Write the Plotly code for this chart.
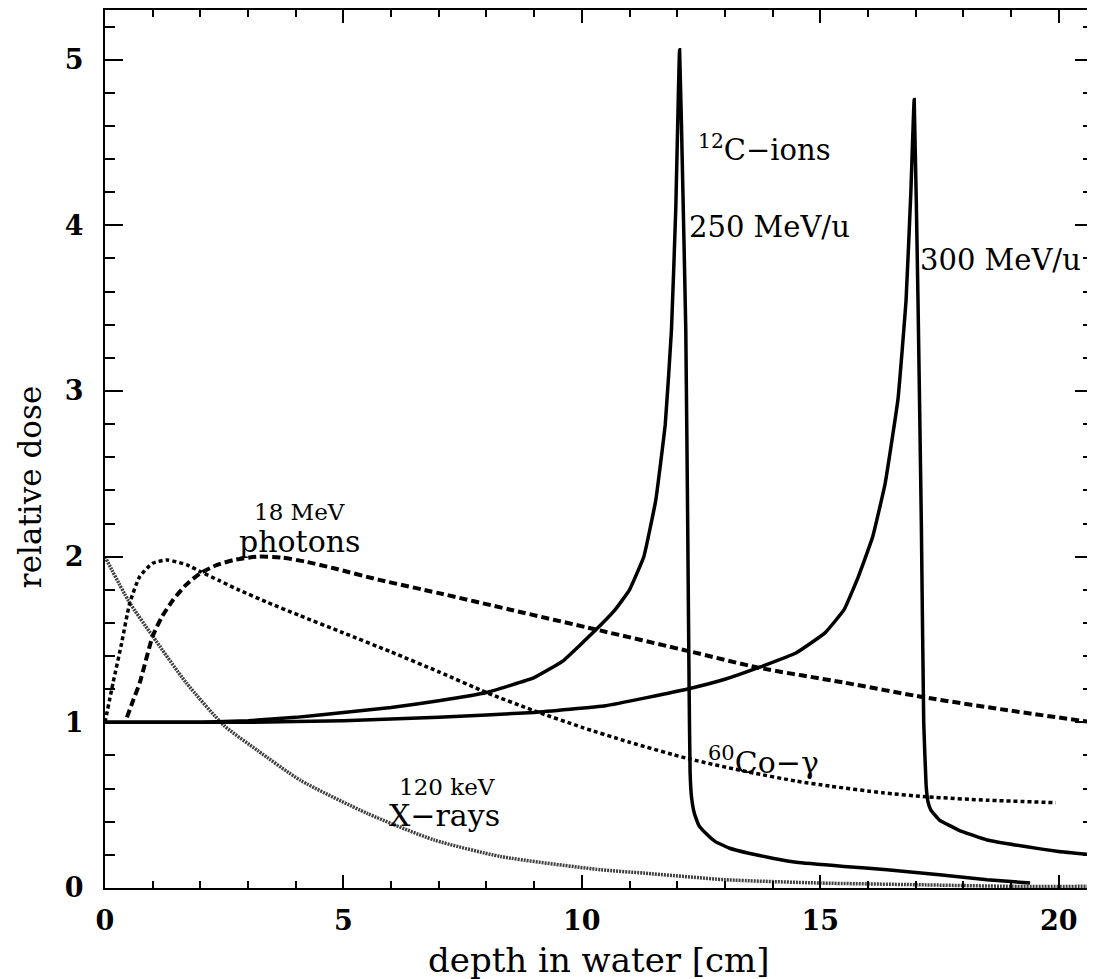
import plotly.graph_objects as go

# ---------------- data ----------------
carbon250_x = [0, 2, 3, 4, 5, 6, 7, 8, 9, 9.6, 10.3, 10.7, 11.0, 11.3, 11.55, 11.75, 11.88,
               11.97, 12.05, 12.12, 12.18, 12.22, 12.25, 12.27, 12.3, 12.36, 12.45, 12.6,
               12.8, 13.1, 13.5, 14.0, 14.5, 15.5, 16.4, 17.5, 18.5, 19.4]
carbon250_y = [1.0, 1.0, 1.01, 1.03, 1.06, 1.09, 1.13, 1.18, 1.27, 1.37, 1.56, 1.68, 1.80,
               2.0, 2.34, 2.8, 3.37, 4.1, 5.06, 4.2, 3.37, 2.2, 1.2, 0.7, 0.55, 0.45, 0.38,
               0.33, 0.28, 0.24, 0.21, 0.18, 0.155, 0.13, 0.11, 0.08, 0.05, 0.03]

carbon300_x = [0, 3, 5, 7, 9, 10.5, 12.2, 13.0, 13.7, 14.5, 15.1, 15.5, 15.8, 16.1, 16.36,
               16.63, 16.8, 16.9, 16.97, 17.05, 17.12, 17.17, 17.22, 17.26, 17.32, 17.5, 17.9,
               18.5, 19.3, 20.0, 20.72]
carbon300_y = [1.0, 1.0, 1.01, 1.03, 1.06, 1.1, 1.2, 1.26, 1.33, 1.42, 1.54, 1.68, 1.88,
               2.12, 2.44, 2.95, 3.55, 4.2, 4.76, 3.55, 2.2, 1.0, 0.62, 0.52, 0.47, 0.41,
               0.35, 0.29, 0.25, 0.22, 0.20]

photons18_x = [0.46, 0.6, 0.73, 1.0, 1.2, 1.43, 1.7, 2.0, 2.35, 2.7, 3.2, 3.7, 4.2, 4.8, 5.75,
               7.0, 8.5, 10.3, 12.24, 13.7, 15.5, 17.2, 19.0, 20.72]
photons18_y = [1.03, 1.14, 1.24, 1.52, 1.64, 1.74, 1.83, 1.90, 1.95, 1.98, 2.0, 1.995, 1.97,
               1.93, 1.86, 1.78, 1.68, 1.56, 1.43, 1.33, 1.24, 1.15, 1.07, 1.0]

co60_x = [0, 0.17, 0.35, 0.52, 0.73, 1.0, 1.3, 1.72, 2.0, 2.4, 2.8, 3.4, 4.08, 5.0, 6.0, 7.0,
          8.0, 9.0, 10.0, 11.0, 12.24, 13.5, 14.5, 15.2, 16.3, 17.26, 18.5, 19.94]
co60_y = [1.0, 1.24, 1.48, 1.72, 1.88, 1.96, 1.98, 1.95, 1.91, 1.855, 1.80, 1.725, 1.645,
          1.54, 1.425, 1.305, 1.18, 1.07, 0.97, 0.88, 0.78, 0.70, 0.645, 0.615, 0.575, 0.55,
          0.53, 0.515]

xray_x = [0, 0.5, 1.0, 1.7, 2.5, 3.2, 4.1, 5.5, 6.9, 8.3, 10.4, 11.3, 13.0, 15.0, 17.0, 19.0,
          20.72]
xray_y = [2.0, 1.73, 1.52, 1.24, 0.98, 0.83, 0.65, 0.45, 0.29, 0.19, 0.11, 0.09, 0.05, 0.03,
          0.02, 0.01, 0.01]

x_ticks = [0, 5, 10, 15, 20]
y_ticks = [0, 1, 2, 3, 4, 5]

FONT = "DejaVu Serif"

fig = go.Figure()
fig.add_trace(go.Scatter(x=xray_x, y=xray_y, mode="lines",
                         line=dict(color="#404040", width=3.5, dash="2px,1px", shape="spline",
                                   smoothing=0.6)))
fig.add_trace(go.Scatter(x=co60_x, y=co60_y, mode="lines",
                         line=dict(color="black", width=3.5, dash="4px,3px", shape="spline",
                                   smoothing=0.6)))
fig.add_trace(go.Scatter(x=photons18_x, y=photons18_y, mode="lines",
                         line=dict(color="black", width=4, dash="8px,4px", shape="spline",
                                   smoothing=0.6)))
fig.add_trace(go.Scatter(x=carbon250_x, y=carbon250_y, mode="lines",
                         line=dict(color="black", width=3.5, shape="spline", smoothing=0.3)))
fig.add_trace(go.Scatter(x=carbon300_x, y=carbon300_y, mode="lines",
                         line=dict(color="black", width=3.5, shape="spline", smoothing=0.3)))

def ann(x, y, text, size, xanchor="center", yanchor="middle"):
    fig.add_annotation(x=x, y=y, xref="x", yref="y", text=text, showarrow=False,
                       xanchor=xanchor, yanchor=yanchor,
                       font=dict(family=FONT, size=size, color="black"))

ann(12.4, 4.47, "<sup>12</sup>C\u2212ions", 29, xanchor="left")
ann(12.2, 3.99, "250 MeV/u", 29, xanchor="left")
ann(17.05, 3.79, "300 MeV/u", 29, xanchor="left")
ann(4.08, 2.27, "18 MeV", 23)
ann(4.08, 2.09, "photons", 30)
ann(12.6, 0.77, "<sup>60</sup>Co\u2212\u03b3", 30, xanchor="left")
ann(7.18, 0.61, "120 keV", 23)
ann(7.12, 0.44, "X\u2212rays", 30)

# plot area in page pixels: left 105, top 10, width 990, height 878 (page has 8px body margin)
fig.add_annotation(x=(600 - 105) / 990, y=-(960 - 888) / 878, xref="paper", yref="paper",
                   text="depth in water [cm]", showarrow=False, xanchor="center",
                   yanchor="middle", font=dict(family=FONT, size=34, color="black"))
fig.add_annotation(x=(30 - 105) / 990, y=(888 - 487) / 878, xref="paper", yref="paper",
                   text="relative dose", showarrow=False, textangle=-90, xanchor="center",
                   yanchor="middle", font=dict(family=FONT, size=31, color="black"))

axis_common = dict(showgrid=False, zeroline=False, showline=True, linecolor="black",
                   linewidth=2, ticks="inside", tickcolor="black", mirror="allticks",
                   tickfont=dict(family=FONT, size=27, color="black", weight="bold"))

fig.update_xaxes(range=[0, 20.72], tickvals=x_ticks, ticklen=13, tickwidth=2,
                 ticklabelstandoff=8,
                 minor=dict(dtick=1, ticks="inside", ticklen=7, tickwidth=1.5,
                            tickcolor="black"),
                 **axis_common)
fig.update_yaxes(range=[0, 5.3], tickvals=y_ticks, ticklen=18, tickwidth=2,
                 ticklabelstandoff=14,
                 minor=dict(dtick=0.2, ticks="inside", ticklen=10, tickwidth=1.5,
                            tickcolor="black"),
                 **axis_common)

fig.update_layout(width=1087, height=971, autosize=False, showlegend=False,
                  margin=dict(l=97, r=0, t=2, b=91),
                  paper_bgcolor="white", plot_bgcolor="white")

fig.write_html("out.html")
